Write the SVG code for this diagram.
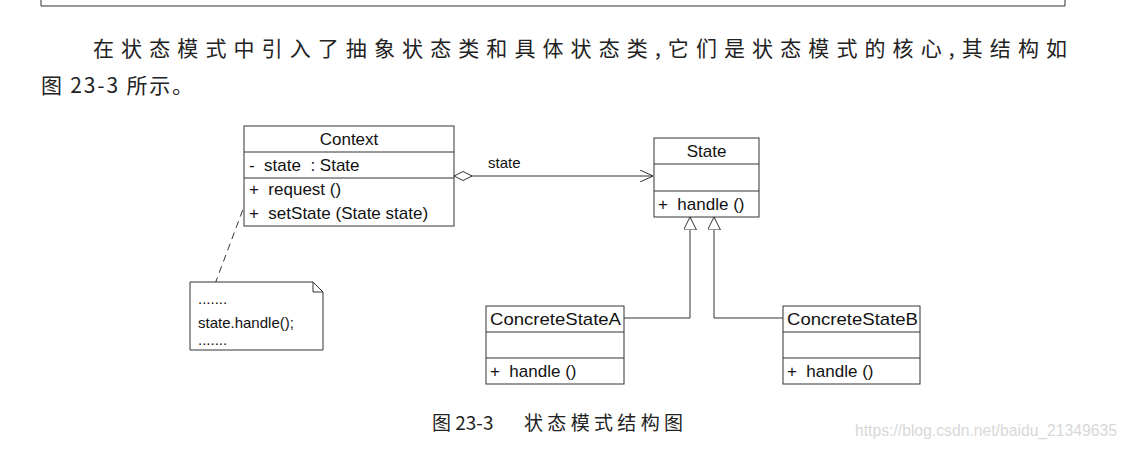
<svg xmlns="http://www.w3.org/2000/svg" width="1123" height="449" viewBox="0 0 1123 449">
<style>
.box{fill:#fff;stroke:#333;stroke-width:1}
.ln{fill:none;stroke:#333;stroke-width:1}
.t{font-family:"Liberation Sans",Arial,sans-serif;font-size:17px;fill:#111;white-space:pre}
.n{font-family:"Liberation Sans",Arial,sans-serif;font-size:15px;fill:#111}
.cjk{font-family:"Noto Sans CJK SC",sans-serif;fill:#222;white-space:pre}
</style>
<defs>
<marker id="open" markerWidth="14" markerHeight="12" refX="13" refY="6" orient="auto" markerUnits="userSpaceOnUse">
<path d="M0,0 L13,6 L0,12" fill="none" stroke="#333" stroke-width="1"/>
</marker>
<marker id="diamond" markerWidth="20" markerHeight="10" refX="0" refY="5" orient="auto" markerUnits="userSpaceOnUse">
<path d="M0,5 L9,0.5 L18,5 L9,9.5 Z" fill="#fff" stroke="#333" stroke-width="1"/>
</marker>
<marker id="tri" markerWidth="14" markerHeight="14" refX="13" refY="6.5" orient="auto" markerUnits="userSpaceOnUse">
<path d="M0,0 L13,6.5 L0,13 Z" fill="#fff" stroke="#333" stroke-width="1"/>
</marker>
</defs>
<rect width="1123" height="449" fill="#fff"/>
<g id="frame">
<path class="ln" d="M41,0 V6 H1065 V0" stroke-width="1.5"/>
</g>
<g id="para">
<text class="cjk" x="93" y="56" font-size="21" textLength="974" lengthAdjust="spacing">在状态模式中引入了抽象状态类和具体状态类,它们是状态模式的核心,其结构如</text>
<text class="cjk" x="41" y="93" font-size="21" textLength="152" lengthAdjust="spacing">图 23-3 所示。</text>
</g>
<g id="connectors">
<line class="ln" x1="454" y1="176" x2="653" y2="176" marker-start="url(#diamond)" marker-end="url(#open)"/>
<text class="n" x="488" y="168">state</text>
<polyline class="ln" points="624,318 690,318 690,217" marker-end="url(#tri)"/>
<polyline class="ln" points="783,318 714,318 714,217" marker-end="url(#tri)"/>
<line class="ln" x1="215" y1="284" x2="251" y2="188" stroke-dasharray="7,5"/>
</g>
<g id="Context">
<rect class="box" x="244" y="126" width="210" height="100"/>
<line class="ln" x1="244" y1="152" x2="454" y2="152"/>
<line class="ln" x1="244" y1="178" x2="454" y2="178"/>
<text class="t" x="349" y="145" text-anchor="middle">Context</text>
<text class="t" x="249" y="171">-  state  : State</text>
<text class="t" x="249" y="195">+  request ()</text>
<text class="t" x="249" y="219">+  setState (State state)</text>
</g>
<g id="State">
<rect class="box" x="654" y="138" width="105" height="79"/>
<line class="ln" x1="654" y1="164" x2="759" y2="164"/>
<line class="ln" x1="654" y1="191" x2="759" y2="191"/>
<text class="t" x="706.500" y="157" text-anchor="middle">State</text>
<text class="t" x="658" y="210">+  handle ()</text>
</g>
<g id="ConcreteStateA">
<rect class="box" x="486" y="306" width="138" height="78"/>
<line class="ln" x1="486" y1="332" x2="624" y2="332"/>
<line class="ln" x1="486" y1="358" x2="624" y2="358"/>
<text class="t" x="490" y="325" textLength="131" lengthAdjust="spacingAndGlyphs">ConcreteStateA</text>
<text class="t" x="490" y="377">+  handle ()</text>
</g>
<g id="ConcreteStateB">
<rect class="box" x="783" y="306" width="137" height="78"/>
<line class="ln" x1="783" y1="332" x2="920" y2="332"/>
<line class="ln" x1="783" y1="358" x2="920" y2="358"/>
<text class="t" x="787" y="325" textLength="131" lengthAdjust="spacingAndGlyphs">ConcreteStateB</text>
<text class="t" x="787" y="377">+  handle ()</text>
</g>
<g id="note">
<path class="box" d="M190,282 H313 L323,292 V350 H190 Z"/>
<path class="ln" d="M313,282 V292 H323"/>
<text class="n" x="198" y="304" font-size="12">.......</text>
<text class="n" x="198" y="328">state.handle();</text>
<text class="n" x="198" y="345" font-size="12">.......</text>
</g>
<g id="caption">
<text class="cjk" x="432" y="430" font-size="19">图 23-3<tspan x="524" textLength="159" lengthAdjust="spacing">状态模式结构图</tspan></text>
<text x="855" y="436" font-family="Liberation Sans,Arial,sans-serif" font-size="16" fill="#d8d8d8" textLength="262" lengthAdjust="spacingAndGlyphs">https://blog.csdn.net/baidu_21349635</text>
</g>
</svg>
